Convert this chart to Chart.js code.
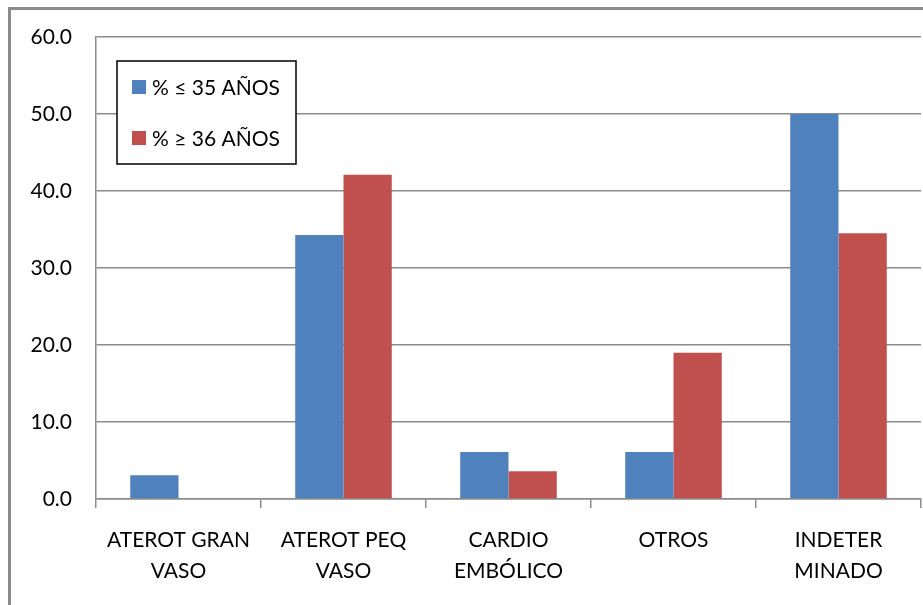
<!DOCTYPE html>
<html lang="es">
<head>
<meta charset="UTF-8">
<title>Tipo de ACV por edad</title>
<script src="https://cdn.jsdelivr.net/npm/chart.js"></script>
<style>
  html, body { margin: 0; padding: 0; background: #fff; overflow: hidden; }
  .frame { position: absolute; left: 8px; top: 7px; width: 1000px; height: 700px; border: 3px solid #8c8c8c; }
  .wrap { position: absolute; left: 0; top: 0; width: 923px; height: 605px; }
</style>
</head>
<body>
<div class="frame"></div>
<div class="wrap"><canvas id="acvChart"></canvas></div>
<script>
const categories = [
  ['ATEROT GRAN', 'VASO'],
  ['ATEROT PEQ', 'VASO'],
  ['CARDIO', 'EMBÓLICO'],
  ['OTROS'],
  ['INDETER', 'MINADO']
];
const menores35 = [3.1, 34.3, 6.1, 6.1, 50.0];
const mayores36 = [0.0, 42.1, 3.6, 19.0, 34.5];
const yTicks = [0, 10, 20, 30, 40, 50, 60];

const FONT = 'Lato, "Liberation Sans", sans-serif';

// legend box drawn inside the plot area, like the original
const boxLegend = {
  id: 'boxLegend',
  afterDraw(chart) {
    const ctx = chart.ctx;
    const x = 117, y = 61, w = 179, h = 103;
    ctx.save();
    ctx.fillStyle = '#fff';
    ctx.fillRect(x, y, w, h);
    ctx.strokeStyle = '#000';
    ctx.lineWidth = 1.5;
    ctx.strokeRect(x, y, w, h);
    ctx.font = '21px ' + FONT;
    ctx.textBaseline = 'middle';
    chart.data.datasets.forEach((ds, i) => {
      const cy = y + 26 + i * 51;
      ctx.fillStyle = ds.backgroundColor;
      ctx.fillRect(x + 15, cy - 7, 14, 14);
      ctx.fillStyle = '#000';
      ctx.fillText(ds.label, x + 35, cy + 1);
    });
    ctx.restore();
  }
};

new Chart(document.getElementById('acvChart'), {
  type: 'bar',
  data: {
    labels: categories,
    datasets: [
      { label: '% \u2264 35 AÑOS', data: menores35, backgroundColor: '#4f81bd' },
      { label: '% \u2265 36 AÑOS', data: mayores36, backgroundColor: '#c0504d' }
    ]
  },
  options: {
    responsive: true,
    maintainAspectRatio: false,
    animation: false,
    layout: { padding: { top: 37, right: 2, left: 0, bottom: 0 } },
    datasets: { bar: { categoryPercentage: 0.585, barPercentage: 1.0 } },
    plugins: {
      legend: { display: false },
      tooltip: { enabled: false }
    },
    scales: {
      x: {
        afterFit: s => { s.height = 106; },
        grid: { offset: true, drawOnChartArea: false, drawTicks: true, tickLength: 9, color: '#8c8c8c', lineWidth: 1.5 },
        border: { color: '#8c8c8c', width: 1.5 },
        ticks: { color: '#000', font: { family: FONT, size: 21, lineHeight: 1.5 }, padding: 16, maxRotation: 0, autoSkip: false }
      },
      y: {
        min: 0, max: 60,
        afterFit: s => { s.width = 96; },
        afterBuildTicks: s => { s.ticks = yTicks.map(v => ({ value: v })); },
        grid: { color: '#8c8c8c', lineWidth: 1.5, drawTicks: false },
        border: { color: '#8c8c8c', width: 1.5 },
        ticks: { color: '#000', font: { family: FONT, size: 21 }, padding: 24, callback: v => v.toFixed(1) }
      }
    }
  },
  plugins: [boxLegend]
});
</script>
</body>
</html>
